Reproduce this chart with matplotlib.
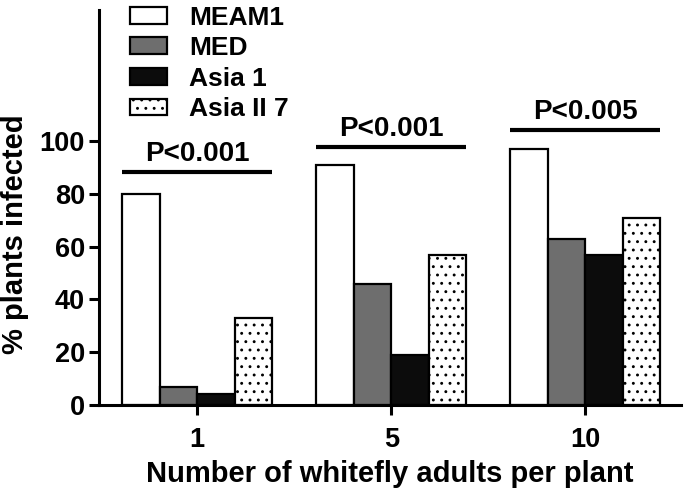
import numpy as np
import matplotlib.pyplot as plt

plt.rcParams['font.family'] = ['Liberation Sans', 'DejaVu Sans']
plt.rcParams['font.weight'] = 'bold'
plt.rcParams['hatch.linewidth'] = 0.9

groups = ['1', '5', '10']
series = ['MEAM1', 'MED', 'Asia 1', 'Asia II 7']
meam1 = [80, 91, 97]
med = [7, 46, 63]
asia1 = [4, 19, 57]
asia2_7 = [33, 57, 71]
p_labels = ['P<0.001', 'P<0.001', 'P<0.005']
line_y = [88.3, 97.7, 104.2]

colors = ['white', '#6e6e6e', '#0c0c0c', 'white']
hatches = [None, None, None, '..']

fig = plt.figure(figsize=(6.85, 4.88), dpi=100)
ax = fig.add_axes([0.1445, 0.170, 0.849, 0.8095])

x = np.arange(len(groups))
w = 0.193
handles = []
for i, vals in enumerate([meam1, med, asia1, asia2_7]):
    b = ax.bar(x + (i - 1.5) * w, vals, w, color=colors[i], edgecolor='black',
               linewidth=1.6, hatch=hatches[i], label=series[i])
    handles.append(b)

# significance bars over each group
for i in range(len(groups)):
    left = x[i] - 2 * w
    right = x[i] + 2 * w
    ax.plot([left, right], [line_y[i], line_y[i]], color='black', linewidth=3,
            solid_capstyle='butt')
    ax.text(x[i], line_y[i] + 1.8, p_labels[i], ha='center', va='bottom',
            fontsize=20, fontweight='bold')

ax.set_xlim(-0.505, 2.49)
ax.set_ylim(0, 149.6)
ax.set_yticks([0, 20, 40, 60, 80, 100])
ax.set_xticks(x)
ax.set_xticklabels(groups)
ax.spines['top'].set_visible(False)
ax.spines['right'].set_visible(False)
ax.spines['left'].set_linewidth(2.2)
ax.spines['bottom'].set_linewidth(2.2)
ax.tick_params(width=2.2, length=7, labelsize=19.5)
ax.tick_params(axis='x', pad=9)
ax.tick_params(axis='y', pad=3)
ax.set_ylabel('% plants infected', fontsize=21, fontweight='bold')
ax.set_xlabel('Number of whitefly adults per plant', fontsize=21, fontweight='bold')
ax.yaxis.set_label_coords(-0.121, 0.433)
ax.xaxis.set_label_coords(0.5, -0.14)

ax.legend(handles=handles, loc='upper left', bbox_to_anchor=(0.035, 1.038),
          frameon=False, fontsize=19, handlelength=1.4, handleheight=0.6,
          labelspacing=0.25, handletextpad=0.85, borderaxespad=0)

plt.savefig('out.png', dpi=100)
